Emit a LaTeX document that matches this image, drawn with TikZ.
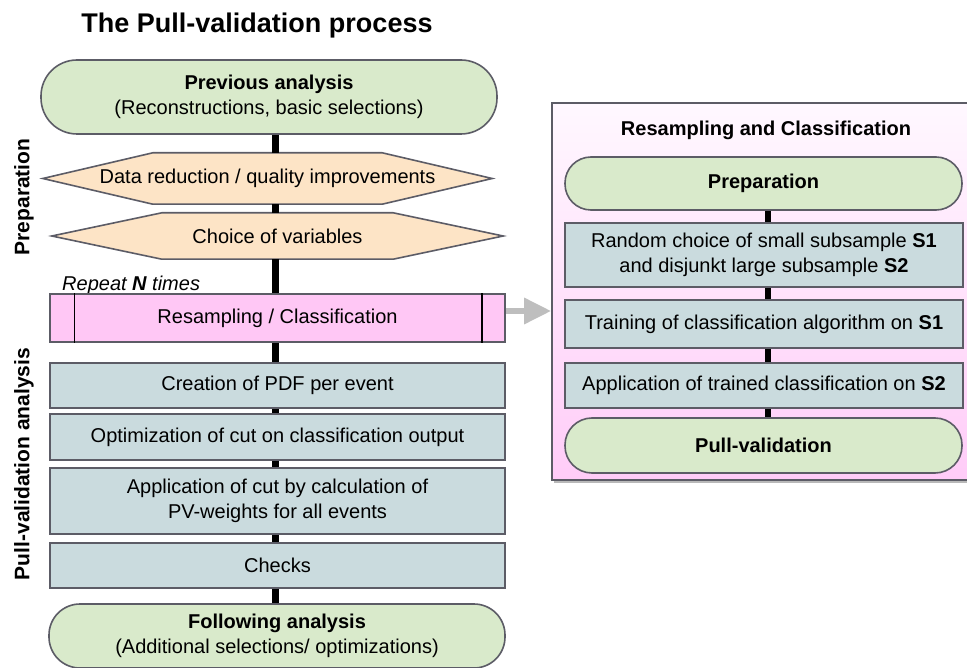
\documentclass[tikz,border=0pt]{standalone}
\usepackage{fontspec}
\setmainfont{Liberation Sans}
\usetikzlibrary{arrows.meta,shadows,backgrounds}
\definecolor{termfill}{RGB}{217,234,203}
\definecolor{hexfill}{RGB}{253,228,198}
\definecolor{boxfill}{RGB}{202,219,222}
\definecolor{pinkfill}{RGB}{255,199,245}
\definecolor{panetop}{RGB}{255,248,255}
\definecolor{panebot}{RGB}{255,204,248}
\definecolor{edgegray}{RGB}{92,92,102}
\definecolor{arrowgray}{RGB}{190,190,190}
\newcommand{\txt}{\fontsize{20}{25}\selectfont}
\newcommand{\sidetxt}{\fontsize{21}{25}\selectfont\bfseries}
\newcommand{\titletxt}{\fontsize{27}{32}\selectfont\bfseries}

\begin{document}
\begin{tikzpicture}[x=1pt,y=-1pt,
every node/.style={inner sep=0pt, font=\txt},
outline/.style={draw=edgegray, line width=1.6pt},
term/.style={outline, fill=termfill, align=center},
hexa/.style={align=center},
proc/.style={outline, fill=boxfill, align=center},
repbox/.style={outline, fill=pinkfill},
panel/.style={outline, top color=panetop, bottom color=panebot,
	drop shadow={shadow xshift=2pt, shadow yshift=-3pt, opacity=0.55}},
spine/.style={line width=7pt, black},
rspine/.style={line width=6pt, black},
grayarrow/.style={arrowgray, line width=6pt, -{Triangle[length=27pt,width=25pt]}}]
\useasboundingbox (0,0) rectangle (967,668);
\def\slant{110pt}

%left column
\node[font=\titletxt, anchor=base] (title) at (257,33) {The Pull-validation process};
\node[term, minimum width=456, minimum height=74, rounded corners=36] (prev) at (269,97)
	{\textbf{Previous analysis}\\(Reconstructions, basic selections)};
\node[hexa, minimum width=449, minimum height=51] (hex1) at (267.5,178.5)
	{Data reduction / quality improvements};
\node[hexa, minimum width=451, minimum height=46] (hex2) at (277.5,236)
	{Choice of variables};
\node[anchor=base west, font=\txt\itshape] (rep) at (62,291) {Repeat \textbf{N} times};
\node[repbox, minimum width=455, minimum height=48] (resamp) at (277.5,318) {Resampling / Classification};
\node[proc, minimum width=455, minimum height=45] (pdf) at (277.5,385.5) {Creation of PDF per event};
\node[proc, minimum width=455, minimum height=46] (opt) at (277.5,437) {Optimization of cut on classification output};
\node[proc, minimum width=455, minimum height=66] (appcut) at (277.5,501)
	{Application of cut by calculation of\\PV-weights for all events};
\node[proc, minimum width=455, minimum height=45] (checks) at (277.5,565.5) {Checks};
\node[term, minimum width=456, minimum height=64, rounded corners=31] (follow) at (277,636)
	{\textbf{Following analysis}\\(Additional selections/ optimizations)};

%hexagon outlines behind the text
\begin{pgfonlayer}{background}
\foreach \h in {hex1,hex2}
	\draw[outline, fill=hexfill] (\h.west) -- ([xshift=\slant]\h.north west) -- ([xshift=-\slant]\h.north east)
		-- (\h.east) -- ([xshift=-\slant]\h.south east) -- ([xshift=\slant]\h.south west) -- cycle;
\end{pgfonlayer}

%side labels
\node[rotate=90, font=\sidetxt] (lprep) at (24,197) {Preparation};
\node[rotate=90, font=\sidetxt] (lpv) at (24,464) {Pull-validation analysis};

%double bars of the repeated step
\draw[black, line width=1.4pt] ([xshift=25pt]resamp.north west) -- ([xshift=25pt]resamp.south west);
\draw[black, line width=1.4pt] ([xshift=-24pt]resamp.north east) -- ([xshift=-24pt]resamp.south east);

%right panel
\node[panel, minimum width=430, minimum height=377] (rcbox) at (767,291.5) {};
\node[font=\txt\bfseries] (rctitle) at (766,130) {Resampling and Classification};
\node[term, minimum width=397, minimum height=53, rounded corners=26] (rprep) at (763.5,183.5) {\textbf{Preparation}};
\node[proc, minimum width=398, minimum height=64] (rand) at (764,255)
	{Random choice of small subsample \textbf{S1}\\and disjunkt large subsample \textbf{S2}};
\node[proc, minimum width=398, minimum height=48] (train) at (764,324) {Training of classification algorithm on \textbf{S1}};
\node[proc, minimum width=398, minimum height=45] (apply) at (764,385.5) {Application of trained classification on \textbf{S2}};
\node[term, minimum width=397, minimum height=55, rounded corners=27] (pv) at (763.5,445.5) {\textbf{Pull-validation}};

%connectors
\coordinate (lx) at (275.5,0);
\coordinate (rx) at (768,0);
\foreach \a/\b in {prev/hex1,hex1/hex2,hex2/resamp,resamp/pdf,pdf/opt,opt/appcut,appcut/checks,checks/follow}
	\draw[spine] (\a.south -| lx) -- (\b.north -| lx);
\foreach \a/\b in {rprep/rand,rand/train,train/apply,apply/pv}
	\draw[rspine] (\a.south -| rx) -- (\b.north -| rx);
\draw[grayarrow] ([yshift=7pt]resamp.east) -- ([yshift=7pt]resamp.east -| rcbox.west);
\end{tikzpicture}
\end{document}
